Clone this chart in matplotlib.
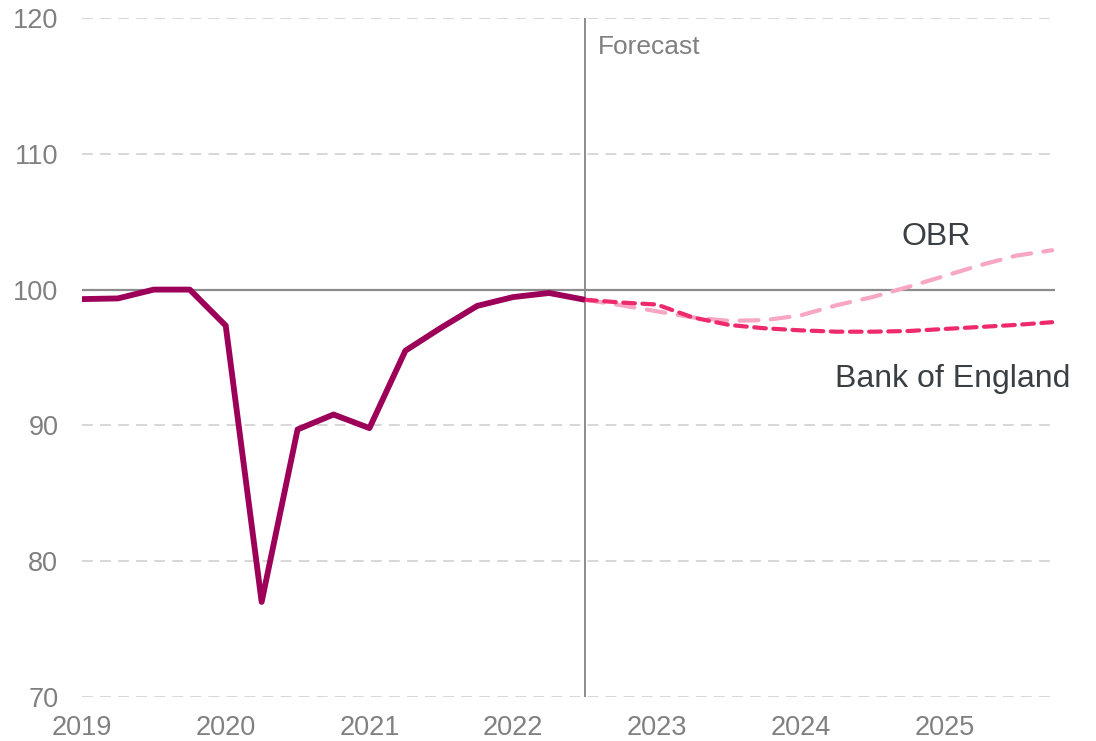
import pandas as pd
import matplotlib
matplotlib.use("Agg")
import matplotlib.pyplot as plt

plt.rcParams["font.family"] = ["Liberation Sans", "DejaVu Sans"]

# quarterly GDP index, 2019Q4 = 100
hist_quarters = pd.period_range("2019Q1", "2022Q3", freq="Q")
hist_values = [99.3, 99.35, 100.0, 100.0, 97.35, 77.0, 89.7, 90.8, 89.8,
               95.5, 97.2, 98.8, 99.45, 99.75, 99.25]

fc_quarters = pd.period_range("2022Q3", "2025Q4", freq="Q")
boe_values = [99.25, 99.05, 98.9, 97.95, 97.4, 97.15, 97.0, 96.9, 96.9,
              96.95, 97.1, 97.25, 97.4, 97.6]
obr_values = [99.25, 98.85, 98.4, 97.95, 97.7, 97.75, 98.1, 98.85, 99.45,
              100.2, 101.0, 101.8, 102.5, 102.9]

year_ticks = [2019, 2020, 2021, 2022, 2023, 2024, 2025]
y_ticks = [70, 80, 90, 100, 110, 120]


def to_year(periods):
    return [p.year + (p.quarter - 1) / 4 for p in periods]


hist_x = to_year(hist_quarters)
fc_x = to_year(fc_quarters)

fig = plt.figure(figsize=(10.96, 7.41), dpi=100)
ax = fig.add_axes([0.0748, 0.0594, 0.8878, 0.9163])

grey = "#808080"
for y in y_ticks:
    if y == 100:
        ax.axhline(y, color="#8c8c8c", lw=1.6, zorder=1)
    else:
        ax.axhline(y, color="#d4d4d4", lw=1.3, dashes=(6, 4), zorder=1)

ax.axvline(2022.5, color="#8c8c8c", lw=1.4, zorder=1)
ax.text(2022.59, 117.86, "Forecast", color=grey, fontsize=19, va="center", ha="left")

ax.plot(fc_x, obr_values, color="#f7a6c4", lw=3.0, dashes=(4.5, 3.0),
        dash_capstyle="round", zorder=2)
ax.plot(fc_x, boe_values, color="#ee2a6c", lw=3.0, dashes=(2.8, 1.8),
        dash_capstyle="round", zorder=3)
ax.plot(hist_x, hist_values, color="#9c0058", lw=4.2, solid_joinstyle="round",
        solid_capstyle="butt", zorder=4)

ax.text(2024.94, 103.9, "OBR", color="#3a3f44", fontsize=23, ha="center", va="center")
ax.text(2025.06, 93.45, "Bank of England", color="#3a3f44", fontsize=23,
        ha="center", va="center")

ax.set_xlim(2019, 2025.77)
ax.set_ylim(70, 120)
ax.set_xticks(year_ticks)
ax.set_xticklabels([str(y) for y in year_ticks])
ax.set_yticks(y_ticks)
ax.tick_params(axis="both", length=0, labelsize=19.5, colors=grey)
ax.tick_params(axis="y", pad=17)
ax.tick_params(axis="x", pad=13)
for s in ax.spines.values():
    s.set_visible(False)

fig.savefig("out.png", dpi=100)
